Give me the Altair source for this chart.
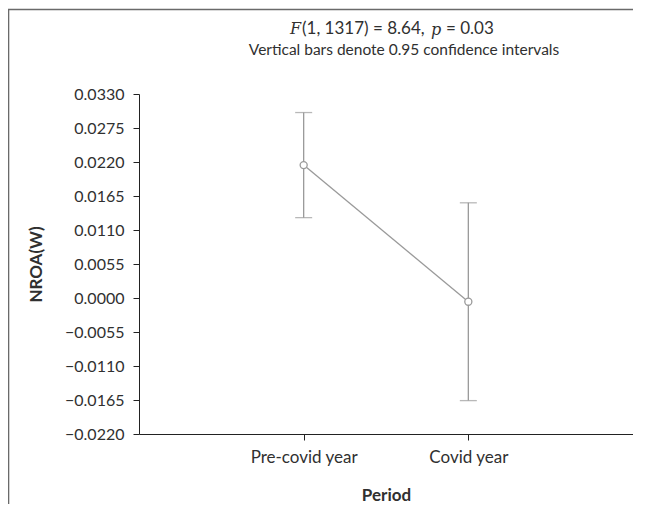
import altair as alt
import pandas as pd

periods = ["Pre-covid year", "Covid year"]
means = [0.0215, -0.0006]
lower = [0.0130, -0.0166]
upper = [0.0300, 0.0154]
y_ticks = [0.033, 0.0275, 0.022, 0.0165, 0.011, 0.0055, 0.0, -0.0055, -0.011, -0.0165, -0.022]

df = pd.DataFrame({"period": periods, "mean": means, "lo": lower, "hi": upper})

FONT = "Lato"
GRAY = "#9a9a9a"
TXT = "#303030"

xscale = alt.Scale(type="point", padding=1)
xaxis = alt.Axis(title="Period", labelAngle=0, labelFont=FONT, labelFontSize=17,
                 labelColor=TXT, titleFont=FONT, titleFontSize=17, titleFontWeight="bold",
                 titleColor=TXT, domainColor="#222", tickColor="#222", tickSize=6,
                 labelPadding=9, titleY=61, titleBaseline="middle", grid=False,
                 labelOverlap=False)
yscale = alt.Scale(domain=[-0.022, 0.033], nice=False, zero=False)
yaxis = alt.Axis(title="NROA(W)", values=y_ticks, format=".4f", labelFont=FONT, labelFontSize=16,
                 labelColor=TXT, titleFont=FONT, titleFontSize=17, titleFontWeight="bold",
                 titleColor=TXT, domainColor="#222", tickColor="#222", tickSize=6, labelPadding=9,
                 titleX=-103, titleY=170, titleAngle=-90, titleAlign="center",
                 titleBaseline="middle", grid=False, labelOverlap=False)

def X():
    return alt.X("period:N", sort=periods, scale=xscale, axis=xaxis)

def Y(field):
    return alt.Y(field, type="quantitative", scale=yscale, axis=yaxis, title="NROA(W)")

base = alt.Chart(df)

rules = base.mark_rule(color=GRAY, strokeWidth=1.3).encode(x=X(), y=Y("lo"), y2="hi:Q")
cap_hi = base.mark_tick(color=GRAY, size=17, thickness=1.3, orient="horizontal").encode(
    x=X(), y=Y("hi"))
cap_lo = base.mark_tick(color=GRAY, size=17, thickness=1.3, orient="horizontal").encode(
    x=X(), y=Y("lo"))
line = base.mark_line(color=GRAY, strokeWidth=1.3).encode(x=X(), y=Y("mean"))
pts = base.mark_point(shape="circle", filled=True, fill="white", stroke=GRAY, strokeWidth=1.3,
                      size=50, opacity=1).encode(x=X(), y=Y("mean"))

one = pd.DataFrame({"a": [0]})
frame_top = alt.Chart(one).mark_rule(stroke="#6a6a6a", strokeWidth=1.6, clip=False).encode(
    x=alt.value(-131), x2=alt.value(500), y=alt.value(-84.5))
frame_left = alt.Chart(one).mark_rule(stroke="#6a6a6a", strokeWidth=1.6, clip=False).encode(
    x=alt.value(-130.5), y=alt.value(-85), y2=alt.value(420))

def txt(s, xpix, ypix, italic=False, size=17):
    return alt.Chart(pd.DataFrame({"t": [s]})).mark_text(
        align="left", baseline="middle", fontSize=size,
        font=("DejaVu Serif" if italic else FONT), fontStyle=("italic" if italic else "normal"),
        color=TXT).encode(text="t:N", x=alt.value(xpix), y=alt.value(ypix))

t1 = txt("F", 151, -65, italic=True, size=16)
t2 = txt("(1, 1317) = 8.64,", 163, -65)
t3 = txt("p", 292, -64, italic=True, size=16)
t4 = txt("= 0.03", 307, -65)
sub = alt.Chart(pd.DataFrame({"t": ["Vertical bars denote 0.95 confidence intervals"]})).mark_text(
    align="center", baseline="middle", fontSize=15.5, font=FONT, color=TXT).encode(
    text="t:N", x=alt.value(265), y=alt.value(-44))

chart = alt.layer(frame_top, frame_left, rules, cap_hi, cap_lo, line, pts, t1, t2, t3, t4, sub).properties(
    width=494, height=340,
    autosize=alt.AutoSizeParams(type="none"),
    padding={"left": 131, "top": 86, "right": 0, "bottom": 70},
).configure(background="white").configure_view(stroke=None)

chart.save("out.html", embed_options={"renderer": "svg", "actions": False})
